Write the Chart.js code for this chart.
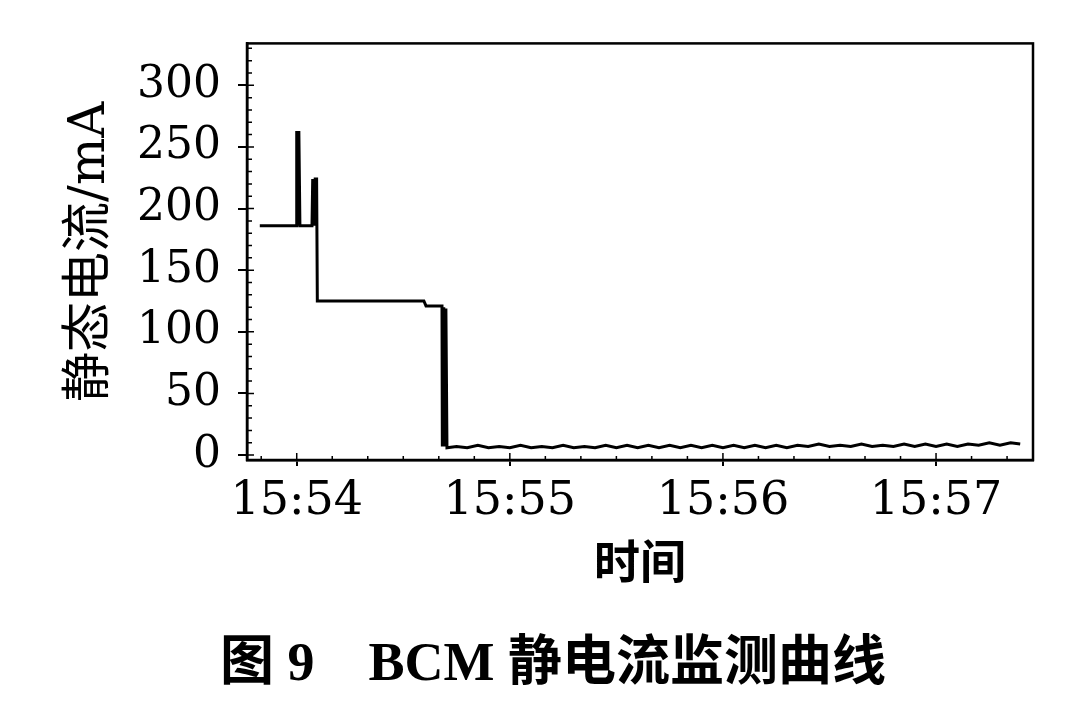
<!DOCTYPE html>
<html><head><meta charset="utf-8">
<script src="https://cdn.jsdelivr.net/npm/chart.js@4"></script>
<style>
html,body{margin:0;padding:0;background:#fff;}
#wrap{position:relative;width:1077px;height:703px;}
#cap{position:absolute;left:0;width:1106px;text-align:center;top:634px;line-height:56px;font-size:54px;font-weight:bold;font-family:'Liberation Serif','Noto Sans CJK SC',serif;color:#000;white-space:pre;}
</style>
</head><body><div id="wrap"><canvas id="c" width="1077" height="703"></canvas>
<div id="cap">图 9　BCM 静电流监测曲线</div></div>
<script>
// time in seconds relative to 15:54:00
const xTickValues = [0, 60, 120, 180];
const xTickLabels = ['15:54', '15:55', '15:56', '15:57'];
const yTickValues = [0, 50, 100, 150, 200, 250, 300];

const timeSec = [
  -10.4, -0.2, 0.0, 0.3, 0.6, 0.9, 4.3, 4.5, 4.9, 5.2, 5.6, 5.8,
  35.8, 36.4, 40.9, 41.0, 41.4, 41.7, 42.0, 42.3,
  45, 48, 51, 54, 57, 60, 63, 66, 69, 72, 75, 78, 81, 84, 87, 90, 93, 96, 99,
  102, 105, 108, 111, 114, 117, 120, 123, 126, 129, 132, 135, 138, 141, 144,
  147, 150, 153, 156, 159, 162, 165, 168, 171, 174, 177, 180, 183, 186, 189,
  192, 195, 198, 201, 203.7
];
const currentMA = [
  186, 186, 263, 186, 263, 186, 186, 224, 186, 224, 224, 125,
  125, 121, 121, 7, 120, 7, 119, 6,
  7, 6, 8, 6, 7, 6, 8, 6, 7, 6, 8, 6, 7, 6, 8, 6, 8, 6, 8,
  6, 8, 6, 8, 6, 8, 6, 8, 6, 8, 6, 8, 6, 8, 7,
  9, 7, 8, 7, 9, 7, 8, 7, 9, 7, 9, 7, 9, 7, 9,
  8, 10, 8, 10, 9
];

const points = timeSec.map((t, i) => ({x: t, y: currentMA[i]}));

const frame = {
  id: 'frame',
  afterDraw(chart) {
    const {ctx, chartArea: a, scales: {x, y}} = chart;
    ctx.save();
    ctx.strokeStyle = '#000';
    ctx.lineWidth = 2.5;
    ctx.strokeRect(a.left, a.top, a.right - a.left, a.bottom - a.top);
    ctx.lineWidth = 1.5;
    ctx.beginPath();
    for (let v = 0; v <= 330; v += 10) {
      const py = y.getPixelForValue(v);
      const len = v % 50 === 0 ? 7 : 5;
      ctx.moveTo(a.left, py); ctx.lineTo(a.left + len, py);
    }
    for (let s = -10; s <= 200; s += 10) {
      const px = x.getPixelForValue(s);
      const len = s % 60 === 0 ? 7 : 4;
      ctx.moveTo(px, a.bottom); ctx.lineTo(px, a.bottom - len);
    }
    ctx.stroke();
    ctx.restore();
  }
};

new Chart(document.getElementById('c'), {
  type: 'line',
  data: {
    datasets: [{
      data: points,
      borderColor: '#000',
      borderWidth: 3,
      pointRadius: 0,
      tension: 0,
      fill: false
    }]
  },
  options: {
    responsive: false,
    animation: false,
    layout: {padding: {top: 40, right: 44, left: 0, bottom: 73.4}},
    plugins: {
      legend: {display: false},
      tooltip: {enabled: false}
    },
    scales: {
      x: {
        type: 'linear',
        min: -14,
        max: 207.3,
        afterFit(s) { s.height = 169.6; },
        afterBuildTicks(s) { s.ticks = xTickValues.map(v => ({value: v})); },
        ticks: {
          callback: (v) => { const i = xTickValues.indexOf(v); return i >= 0 ? xTickLabels[i] : ''; },
          font: {family: "'DejaVu Serif'", size: 46},
          color: '#000',
          padding: 8,
          maxRotation: 0,
          autoSkip: false
        },
        grid: {drawOnChartArea: false, tickLength: 6, color: '#000', lineWidth: 2},
        border: {display: true, color: '#000', width: 2.5},
        title: {
          display: true,
          text: '时间',
          color: '#000',
          font: {family: "'Noto Sans CJK SC'", size: 46, weight: 'bold'},
          padding: {top: 0, bottom: 41}
        }
      },
      y: {
        min: -4,
        max: 334,
        afterFit(s) { s.width = 247; },
        afterBuildTicks(s) { s.ticks = yTickValues.map(v => ({value: v})); },
        ticks: {
          font: {family: "'DejaVu Serif'", size: 44},
          color: '#000',
          padding: 17
        },
        grid: {drawOnChartArea: false, tickLength: 9, color: '#000', lineWidth: 2},
        border: {display: true, color: '#000', width: 2.5},
        title: {
          display: true,
          text: '静态电流/mA',
          color: '#000',
          font: {family: "'DejaVu Serif', 'Noto Sans CJK SC'", size: 50},
          padding: {top: 61, bottom: 0}
        }
      }
    }
  },
  plugins: [frame]
});
</script>
</body></html>
